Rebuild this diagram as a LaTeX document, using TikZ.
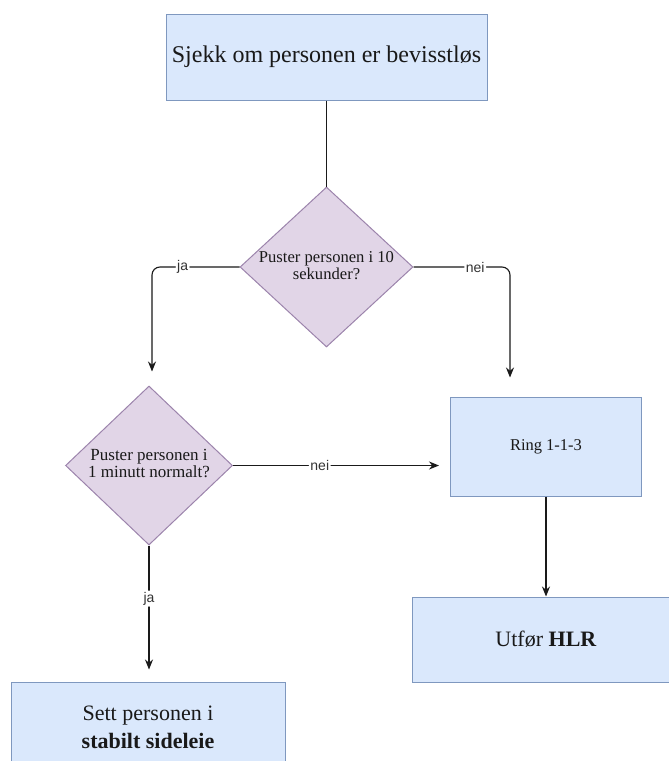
\documentclass[tikz,border=0pt]{standalone}
\usepackage{fontspec}
\setmainfont{Liberation Serif}
\setsansfont{Liberation Sans}
\usetikzlibrary{shapes.geometric,arrows.meta}
\definecolor{boxfill}{HTML}{DAE8FC}
\definecolor{boxline}{HTML}{7F98BF}
\definecolor{diafill}{HTML}{E1D5E7}
\definecolor{dialine}{HTML}{9C84AC}
\definecolor{edge}{HTML}{1A1A1A}
\tikzset{
  procbox/.style={rectangle, draw=boxline, fill=boxfill, line width=1pt, inner sep=0pt, align=center, text=black!90},
  decision/.style={diamond, draw=dialine, fill=diafill, line width=1pt, inner sep=0pt, text=black!90},
  conn/.style={draw=edge, line width=1.1pt, rounded corners=8pt},
  arr/.style={conn, -{Stealth[length=10pt,width=8pt]}},
  elabel/.style={fill=white, inner sep=1.5pt, font=\sffamily\fontsize{14}{16}\selectfont, text=black!80},
}
\begin{document}
\begin{tikzpicture}[x=1pt,y=-1pt]
\useasboundingbox (0,0) rectangle (669,761);
\clip (0,0) rectangle (669,761);
\fill[white] (0,0) rectangle (669,761);

\node[procbox, minimum width=321pt, minimum height=86pt, font=\fontsize{24}{28}\selectfont] (top) at (326.5,57) {Sjekk om personen er bevisstløs};

\node[decision, minimum width=173pt, minimum height=160pt, font=\fontsize{16.6}{18}\selectfont] (d1) at (326.5,267)
  {\makebox[0pt]{\begin{tabular}{@{}c@{}}Puster personen i 10\\[-1pt] sekunder?\end{tabular}}};

\node[decision, minimum width=167pt, minimum height=159pt, font=\fontsize{17}{18}\selectfont] (d2) at (149,465.5)
  {\makebox[0pt]{\begin{tabular}{@{}c@{}}Puster personen i\\[-1pt] 1 minutt normalt?\end{tabular}}};

\node[procbox, minimum width=191pt, minimum height=99pt, font=\fontsize{16.5}{20}\selectfont] (ring) at (546,446.5) {Ring 1-1-3};

\node[procbox, minimum width=268pt, minimum height=85pt, font=\fontsize{22}{26}\selectfont] (hlr) at (546,639.5) {Utfør \textbf{HLR}};

\node[procbox, minimum width=274pt, minimum height=90pt, font=\fontsize{22}{28}\selectfont] (side) at (148,727) {Sett personen i\\ \textbf{stabilt sideleie}};

\draw[conn] (top.south) -- (d1.north);

\draw[arr, shorten >=14pt] (d1.west) -| node[elabel, pos=0.325] (lja1) {ja} ([xshift=3pt]d2.north);

\draw[arr, shorten >=19pt] (d1.east) -| node[elabel, pos=0.32] (lnei1) {nei} ([xshift=-36pt]ring.north);

\draw[arr, shorten >=11pt] (d2.east) -- node[elabel, pos=0.4] (lnei2) {nei} (d2.east -| ring.west);

\draw[arr] (ring.south) -- (hlr.north);

\draw[arr, shorten >=12pt] (d2.south) -- node[elabel, pos=0.39] (lja2) {ja} (d2.south |- side.north);
\end{tikzpicture}
\end{document}
